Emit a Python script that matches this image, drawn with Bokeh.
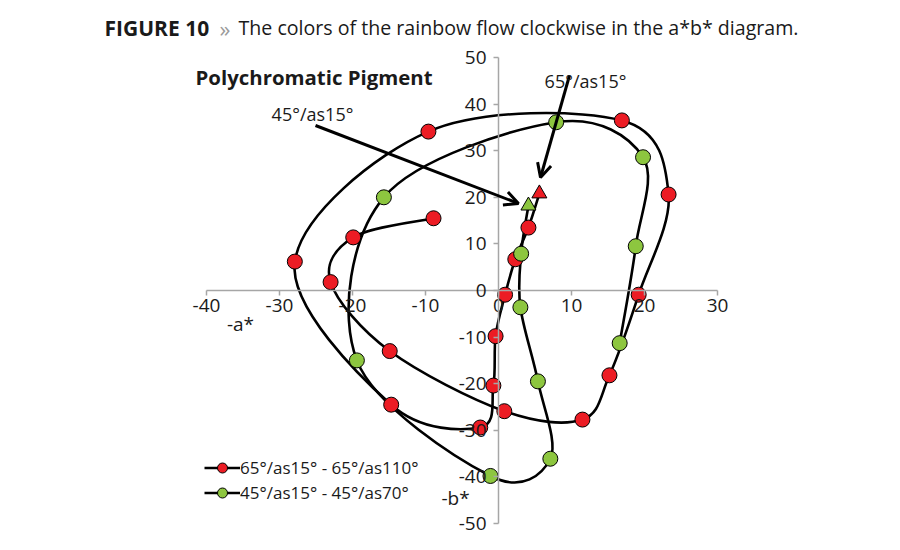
from bokeh.plotting import figure
from bokeh.models import (Range1d, FixedTicker, Label, Arrow, OpenHead,
                          Legend, LegendItem, PrintfTickFormatter)
from bokeh.embed import file_html
from bokeh.resources import INLINE

# ---------------- data ----------------
x_ticks = [-40, -30, -20, -10, 0, 10, 20, 30]
y_ticks = [-50, -40, -30, -20, -10, 0, 10, 20, 30, 40, 50]

# 65°/as15° - 65°/as110° (first point = 65°/as15°, triangle)
red_a = [5.6, 4.1, 2.3, 0.9, -0.4, -0.7, -2.5, -14.7, -27.9, -9.6,
         16.9, 23.3, 19.2, 15.2, 11.5, 0.8, -14.9, -23.0, -19.9, -8.9]
red_b = [20.8, 13.5, 6.7, -0.9, -9.8, -20.4, -29.4, -24.5, 6.2, 34.1,
         36.5, 20.6, -0.9, -18.2, -27.7, -25.9, -13.0, 1.8, 11.4, 15.5]

# 45°/as15° - 45°/as70° (first point = 45°/as15°, triangle)
green_a = [4.1, 3.1, 3.0, 5.4, 7.1, -1.1, -19.4, -15.7, 7.9, 19.8, 18.8, 16.6]
green_b = [18.2, 7.9, -3.6, -19.5, -36.1, -39.8, -15.0, 20.0, 36.1, 28.6, 9.5, -11.3]

red_name = "65°/as15° - 65°/as110°"
green_name = "45°/as15° - 45°/as70°"

RED = "#ec1c24"
GREEN = "#8dc63f"
FONT = "Open Sans"

# ---------------- geometry ----------------
W, H = 884, 542
AX_L, AX_R, AX_T, AX_B = 206, 717, 57, 523   # where -40/30 and 50/-50 sit (px)


def X(px):  # pixel -> data a*
    return -40 + (px - AX_L) * 70.0 / (AX_R - AX_L)


def Y(py):  # pixel -> data b*
    return 50 - (py - AX_T) * 100.0 / (AX_B - AX_T)


def smooth(xs, ys):
    """Bezier segments (Catmull-Rom style, as spreadsheet smoothed lines)."""
    n = len(xs)
    out = dict(x0=[], y0=[], x1=[], y1=[], cx0=[], cy0=[], cx1=[], cy1=[])
    for i in range(n - 1):
        p0 = i - 1 if i > 0 else i
        p3 = i + 2 if i + 2 < n else i + 1
        out["x0"].append(xs[i]); out["y0"].append(ys[i])
        out["x1"].append(xs[i + 1]); out["y1"].append(ys[i + 1])
        out["cx0"].append(xs[i] + (xs[i + 1] - xs[p0]) / 6.0)
        out["cy0"].append(ys[i] + (ys[i + 1] - ys[p0]) / 6.0)
        out["cx1"].append(xs[i + 1] - (xs[p3] - xs[i]) / 6.0)
        out["cy1"].append(ys[i + 1] - (ys[p3] - ys[i]) / 6.0)
    return out


p = figure(width=W, height=H, output_backend="svg", toolbar_location=None,
           x_range=Range1d(X(0), X(W)), y_range=Range1d(Y(H), Y(0)),
           min_border_left=0, min_border_right=0,
           min_border_top=0, min_border_bottom=0)
p.outline_line_color = None
p.grid.visible = False
p.background_fill_color = "white"
p.border_fill_color = "white"

for ax, ticks in ((p.xaxis[0], x_ticks), (p.yaxis[0], y_ticks)):
    ax.fixed_location = 0
    ax.bounds = (ticks[0], ticks[-1])
    ax.ticker = FixedTicker(ticks=ticks)
    ax.formatter = PrintfTickFormatter(format="%d")
    ax.minor_tick_line_color = None
    ax.major_tick_in = 0
    ax.major_tick_out = 5
    ax.axis_line_color = "#a6a6a6"
    ax.axis_line_width = 1.5
    ax.major_tick_line_color = "#a6a6a6"
    ax.major_tick_line_width = 1.5
    ax.major_label_text_font = FONT
    ax.major_label_text_font_size = "19px"
    ax.major_label_text_color = "#1a1a1a"
p.xaxis[0].major_label_standoff = 3
p.yaxis[0].major_label_standoff = 7

# small legend markers (hidden under the big ones)
lm1 = p.scatter(red_a[1:], red_b[1:], marker="circle", size=9,
                fill_color=RED, line_color="black", line_width=1)
lm2 = p.scatter(green_a[1:], green_b[1:], marker="circle", size=9,
                fill_color=GREEN, line_color="black", line_width=1)

# curves
curves = []
for xs, ys in ((red_a, red_b), (green_a, green_b)):
    s = smooth(xs, ys)
    curves.append(p.bezier(x0=s["x0"], y0=s["y0"], x1=s["x1"], y1=s["y1"],
                           cx0=s["cx0"], cy0=s["cy0"], cx1=s["cx1"], cy1=s["cy1"],
                           line_color="black", line_width=2.6))

# markers
p.scatter(red_a[1:], red_b[1:], marker="circle", size=15,
          fill_color=RED, line_color="black", line_width=1)
p.scatter(red_a[:1], red_b[:1], marker="triangle", size=15,
          fill_color=RED, line_color="black", line_width=1)
p.scatter(green_a[1:], green_b[1:], marker="circle", size=15,
          fill_color=GREEN, line_color="black", line_width=1)
p.scatter(green_a[:1], green_b[:1], marker="triangle", size=15,
          fill_color=GREEN, line_color="black", line_width=1)

legend = Legend(items=[LegendItem(label=red_name, renderers=[curves[0], lm1]),
                       LegendItem(label=green_name, renderers=[curves[1], lm2])],
                location=(204, H - 505), glyph_width=36, glyph_height=25,
                label_height=25, label_standoff=0, spacing=0, padding=0,
                margin=0, border_line_alpha=0, background_fill_alpha=0,
                label_text_font=FONT, label_text_font_size="17px",
                label_text_color="#1a1a1a")
p.add_layout(legend, "center")

# arrows
p.add_layout(Arrow(end=OpenHead(size=14, line_width=3, line_color="black"),
                   x_start=X(315), y_start=Y(125), x_end=X(518), y_end=Y(203),
                   line_width=3, line_color="black"))
p.add_layout(Arrow(end=OpenHead(size=14, line_width=3, line_color="black"),
                   x_start=X(569), y_start=Y(75), x_end=X(540), y_end=Y(177),
                   line_width=3, line_color="black"))


def label(px, py, text, size, bold=False, color="#1a1a1a", align="left"):
    p.add_layout(Label(x=X(px), y=Y(py), text=text, text_font=FONT,
                       text_font_size=size,
                       text_font_style="bold" if bold else "normal",
                       text_color=color, text_align=align,
                       text_baseline="middle"))


label(104, 27, "FIGURE 10", "21px", bold=True)
label(219, 27, "»", "22px", color="#9a9a9a")
label(238, 27, "The colors of the rainbow flow clockwise in the a*b* diagram.", "19.6px")
label(195, 76, "Polychromatic Pigment", "20.4px", bold=True)
label(312, 113, "45°/as15°", "18px", align="center")
label(585, 80, "65°/as15°", "18px", align="center")
label(240, 323, "-a*", "19px", align="center")
label(455, 497, "-b*", "19px", align="center")

open("out.html", "w").write(file_html(p, INLINE))
